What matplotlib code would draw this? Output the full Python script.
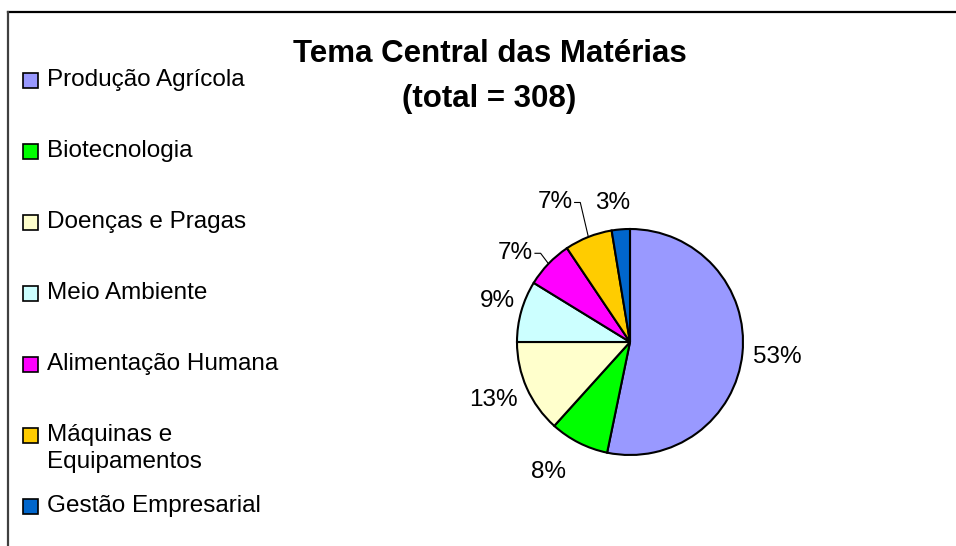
import matplotlib.pyplot as plt
import numpy as np
from matplotlib.lines import Line2D
from matplotlib.patches import Rectangle

plt.rcParams['font.family'] = ['Liberation Sans', 'DejaVu Sans']

# article counts per theme (total = 308)
temas = ['Produção Agrícola', 'Biotecnologia', 'Doenças e Pragas', 'Meio Ambiente',
         'Alimentação Humana', 'Máquinas e\nEquipamentos', 'Gestão Empresarial']
contagens = [164, 26, 41, 27, 21, 21, 8]
cores = ['#9999FF', '#00FF00', '#FFFFCC', '#CCFFFF', '#FF00FF', '#FFCC00', '#0066CC']

W, H = 956, 546
fig = plt.figure(figsize=(W / 100, H / 100), dpi=100)

# chart frame (only top and left edges are visible)
fig.add_artist(Line2D([8 / W, 1], [1 - 11.5 / H] * 2, color='black', lw=1.6))
fig.add_artist(Line2D([8 / W] * 2, [0, 1 - 11.5 / H], color='#404040', lw=1.6))

fig.text(490 / W, 1 - 54 / H, 'Tema Central das Matérias',
         ha='center', va='center', fontsize=22.5, fontweight='bold')
fig.text(489 / W, 1 - 99 / H, '(total = 308)',
         ha='center', va='center', fontsize=22.5, fontweight='bold')

# pie
cx, cy, r = 630, 342, 113
ax = fig.add_axes([(cx - r) / W, (H - cy - r) / H, 2 * r / W, 2 * r / H])
wedges, _ = ax.pie(contagens, colors=cores, startangle=90, counterclock=False,
                   wedgeprops=dict(edgecolor='black', linewidth=1.5))
ax.set_xlim(-1, 1)
ax.set_ylim(-1, 1)
ax.axis('off')

total = sum(contagens)
dist_rotulo = [1.31, 1.36, 1.31, 1.23, 1.28, 1.40, 1.24]
desvio_ang = [0, -5, -1, -1.5, 6, 6.5, 2.5]
guia = [False, False, False, False, True, True, False]
for w, n, d, da, g in zip(wedges, contagens, dist_rotulo, desvio_ang, guia):
    meio = np.deg2rad((w.theta1 + w.theta2) / 2)
    ang = meio + np.deg2rad(da)
    x, y = d * np.cos(ang), d * np.sin(ang)
    ax.text(x, y, '%.0f%%' % (100 * n / total), ha='center', va='center',
            fontsize=17.5, clip_on=False)
    if g:
        x0 = x + 0.17
        ax.plot([x0, x0 + 0.05, np.cos(meio)], [y, y, np.sin(meio)],
                color='black', lw=0.8, clip_on=False)

# legend drawn by hand to keep Excel's row layout
for i, (t, c) in enumerate(zip(temas, cores)):
    yc = 80 + 71 * i
    fig.add_artist(Rectangle((23 / W, 1 - (yc + 7.5) / H), 15 / W, 15 / H,
                             facecolor=c, edgecolor='black', lw=1.2))
    linhas = t.split('\n')
    for k, s in enumerate(linhas):
        fig.text(47 / W, 1 - (yc + 27 * k) / H, s, ha='left', va='center', fontsize=17.5)

fig.savefig('out.png', dpi=100)
